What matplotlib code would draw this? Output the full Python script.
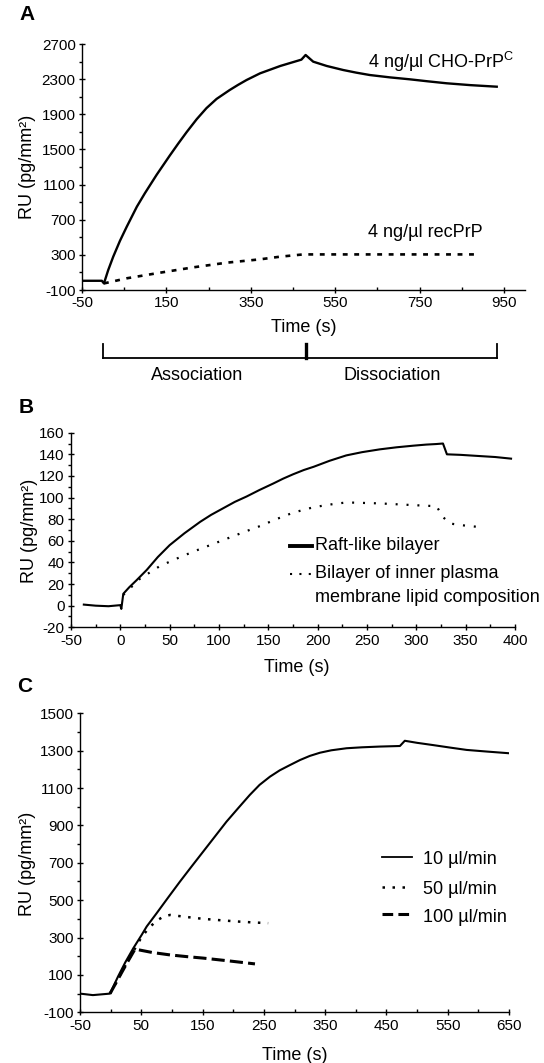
import matplotlib
matplotlib.use("Agg")
import matplotlib.pyplot as plt
from matplotlib.lines import Line2D
from matplotlib.ticker import MultipleLocator
import matplotlib.transforms as mtransforms

plt.rcParams['font.family'] = ['Liberation Sans', 'DejaVu Sans']
plt.rcParams['mathtext.fontset'] = 'custom'
plt.rcParams['mathtext.rm'] = 'Liberation Sans'
plt.rcParams['axes.unicode_minus'] = False

# ---- panel A: 4 ng/ul on sensor, long run ----
a_cho_t = [-50, -3, 2, 12, 24, 40, 56, 80, 99, 127, 158, 178, 198, 222, 245, 269, 300, 320, 340,
           372, 420, 470, 480, 498, 530, 569, 600, 632, 680, 727, 770, 814, 870, 933]
a_cho_v = [5, 5, -25, 125, 279, 460, 620, 848, 1001, 1212, 1430, 1566, 1697, 1845, 1970, 2075, 2176, 2235, 2290,
           2366, 2450, 2522, 2575, 2499, 2450, 2404, 2374, 2347, 2320, 2298, 2275, 2253, 2232, 2214]
a_rec_t = [2, 56, 135, 214, 293, 372, 419, 474, 894]
a_rec_v = [-25, 33, 97, 158, 211, 249, 279, 305, 305]
a_phases = [0, 480, 933]
a_phase_names = ["Association", "Dissociation"]
a_phase_centers = [222, 686]

# ---- panel B: two bilayers ----
b_raft_t = [-37, -25, -12, 0, 1, 3, 9, 16.5, 26.7, 38, 50, 65, 81, 92, 104, 116, 128, 141, 155, 165, 175, 186,
            196, 212, 229, 245, 263, 280, 297, 310, 320, 327, 331, 345, 364, 380, 396]
b_raft_v = [1, 0, -0.5, 0.5, -3, 11, 17, 23.6, 33, 45, 56, 67, 77.6, 84, 90, 96, 101, 107, 113, 117.5, 121.5, 125.5,
            128.5, 134, 139, 142, 144.6, 146.5, 148, 149, 149.5, 150, 140, 139.5, 138.4, 137.5, 136]
b_inner_t = [3, 20, 40, 57, 74, 91, 108, 125, 141.5, 158, 175, 195.5, 212, 229, 263, 297, 320.5, 327, 334, 350, 368]
b_inner_v = [10, 25, 36.6, 43.5, 50, 56, 62, 68, 73.6, 80, 86, 91, 93.5, 95.5, 94.6, 93, 92, 82, 76, 74, 72.4]

# ---- panel C: flow rates ----
c10_t = [-50, -29, -1, 12, 24, 37, 50.6, 58.8, 75, 94, 113, 132, 151, 170, 189, 208, 227, 243, 260, 276, 292, 309,
         325, 341.5, 360, 385, 410, 439, 472, 480, 500, 526, 555, 581, 615, 651]
c10_v = [0, -8, 0, 91, 168, 243, 314, 359, 430, 515, 599, 680, 760, 840, 920, 992, 1063, 1117, 1161, 1195, 1222, 1250,
         1272, 1289, 1302, 1313, 1318, 1322, 1325, 1353, 1342, 1330, 1316, 1304, 1295, 1286]
c50_t = [-1, 26, 50, 62, 75, 86, 97, 124, 151, 178, 206, 232, 257]
c50_v = [0, 163, 300, 350, 390, 412, 421, 410, 400, 393, 386, 381, 377]
c100_t = [-1, 26, 39.7, 68, 97, 124, 151, 193, 235.5]
c100_v = [0, 160, 238, 220, 207, 198, 190, 175, 159]

W, H = 544, 1063
fig = plt.figure(figsize=(W / 100, H / 100), dpi=100)


def rect(l, t, r, b):
    return [l / W, 1 - b / H, (r - l) / W, (b - t) / H]


def fx(x):
    return x / W


def fy(y):
    return 1 - y / H


def style(ax):
    for s in ['top', 'right']:
        ax.spines[s].set_visible(False)
    for s in ['left', 'bottom']:
        ax.spines[s].set_linewidth(1.0)
    ax.tick_params(which='major', direction='inout', length=5, width=1.0, labelsize=11, pad=2)
    ax.tick_params(axis='y', which='minor', direction='out', length=2.5, width=1.0)
    ax.tick_params(axis='x', which='minor', direction='in', length=2.5, width=1.0)


def ylab(x, y):
    fig.text(fx(x), fy(y), "RU (pg/mm²)", rotation=90, ha='center', va='center', fontsize=13)


def xlab(x, y):
    fig.text(fx(x), fy(y), "Time (s)", ha='center', va='center', fontsize=13)


def key(x0, x1, y, **kw):
    fig.add_artist(Line2D([fx(x0), fx(x1)], [fy(y), fy(y)], transform=fig.transFigure, color='black', **kw))


# Panel A
axA = fig.add_axes(rect(82, 44, 525, 290))
axA.plot(a_cho_t, a_cho_v, color='black', lw=1.7, solid_joinstyle='round')
axA.plot(a_rec_t, a_rec_v, color='black', lw=1.9, dashes=(1.85, 2.5))
axA.set_xlim(-50, 1000)
axA.set_ylim(-100, 2700)
axA.set_xticks([-50, 150, 350, 550, 750, 950])
axA.xaxis.set_minor_locator(MultipleLocator(100, offset=50))
axA.set_yticks(range(-100, 2701, 400))
axA.yaxis.set_minor_locator(MultipleLocator(200, offset=100))
style(axA)
axA.text(628, 2499, "4 ng/µl CHO-PrP$^{\\mathrm{C}}$", fontsize=13, va='center', ha='left')
axA.text(628, 549, "4 ng/µl recPrP", fontsize=13, va='center', ha='left')
ylab(28, 167)
xlab(304, 328)

# bracket under panel A
tr = mtransforms.blended_transform_factory(axA.transData, fig.transFigure)
fig.add_artist(Line2D([a_phases[0], a_phases[-1]], [fy(358), fy(358)], transform=tr, color='black', lw=1.3))
for i, p in enumerate(a_phases):
    fig.add_artist(Line2D([p, p], [fy(344), fy(358)], transform=tr, color='black', lw=2.4 if i == 1 else 1.3))
for name, c in zip(a_phase_names, a_phase_centers):
    fig.text(c, fy(375), name, transform=tr, ha='center', va='center', fontsize=13)

fig.text(fx(27), fy(15), "A", fontsize=15, fontweight='bold', ha='center', va='center')

# Panel B
axB = fig.add_axes(rect(71, 432.7, 515, 627.3))
axB.plot(b_raft_t, b_raft_v, color='black', lw=1.5)
axB.plot(b_inner_t, b_inner_v, color='black', lw=1.6, dashes=(0.9, 4.0))
axB.set_xlim(-50, 400)
axB.set_ylim(-20, 160)
axB.set_xticks(range(-50, 401, 50))
axB.xaxis.set_minor_locator(MultipleLocator(25))
axB.set_yticks(range(-20, 161, 20))
axB.yaxis.set_minor_locator(MultipleLocator(10))
style(axB)
ylab(29, 531)
xlab(297, 667)
key(290, 312, 546, lw=2.8)
key(290, 312, 574, lw=1.5, dashes=(1, 3.5))
fig.text(fx(315), fy(546), "Raft-like bilayer", fontsize=13, va='center')
fig.text(fx(315), fy(574), "Bilayer of inner plasma", fontsize=13, va='center')
fig.text(fx(315), fy(598), "membrane lipid composition", fontsize=13, va='center')
fig.text(fx(26), fy(407), "B", fontsize=15, fontweight='bold', ha='center', va='center')

# Panel C
axC = fig.add_axes(rect(80, 713.3, 509, 1012.3))
axC.plot(c10_t, c10_v, color='black', lw=1.5)
axC.plot(c50_t, c50_v, color='black', lw=1.8, dashes=(1, 3))
axC.plot(c100_t, c100_v, color='black', lw=2.2, dashes=(4.3, 1.7))
axC.set_xlim(-50, 650)
axC.set_ylim(-100, 1500)
axC.set_xticks(range(-50, 651, 100))
axC.xaxis.set_minor_locator(MultipleLocator(100))
axC.set_yticks(range(-100, 1501, 200))
axC.yaxis.set_minor_locator(MultipleLocator(100))
style(axC)
ylab(28, 864)
xlab(295, 1055)
key(382, 412, 857, lw=1.3)
key(382, 412, 887, lw=1.8, dashes=(1, 3))
key(382, 412, 914, lw=2.2, dashes=(3.5, 1.7))
fig.text(fx(423), fy(860), "10 µl/min", fontsize=13, va='center')
fig.text(fx(423), fy(889), "50 µl/min", fontsize=13, va='center')
fig.text(fx(423), fy(918), "100 µl/min", fontsize=13, va='center')
fig.text(fx(25), fy(687), "C", fontsize=15, fontweight='bold', ha='center', va='center')

fig.savefig("out.png", dpi=100)
